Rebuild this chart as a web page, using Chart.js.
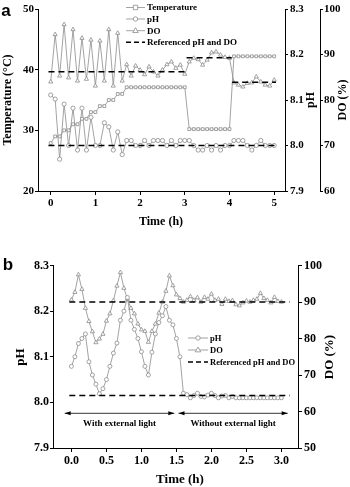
<!DOCTYPE html>
<html>
<head>
<meta charset="utf-8">
<script src="https://cdn.jsdelivr.net/npm/chart.js@4/dist/chart.umd.min.js"></script>
<style>
  html, body { margin: 0; padding: 0; background: #fff; }
  #wrap { position: relative; width: 350px; height: 487px; }
  canvas { position: absolute; left: 0; }
  #chartA { top: 0; }
  #chartB { top: 235px; }
</style>
</head>
<body>
<div id="wrap">
  <canvas id="chartA" width="350" height="235"></canvas>
  <canvas id="chartB" width="350" height="252"></canvas>
</div>
<script>
// ---- panel a data (every 0.1 h) ----
var timeA = [0, 0.1, 0.2, 0.3, 0.4, 0.5, 0.6, 0.7, 0.8, 0.9, 1.0, 1.1, 1.2, 1.3, 1.4, 1.5, 1.6, 1.7, 1.8, 1.9,
  2.0, 2.1, 2.2, 2.3, 2.4, 2.5, 2.6, 2.7, 2.8, 2.9, 3.0, 3.1, 3.2, 3.3, 3.4, 3.5, 3.6, 3.7, 3.8, 3.9,
  4.0, 4.1, 4.2, 4.3, 4.4, 4.5, 4.6, 4.7, 4.8, 4.9, 5.0];
var temperatureA = [27.9, 29.0, 29.0, 30.0, 30.0, 31.0, 31.0, 31.9, 31.9, 33.0, 33.0, 34.0, 34.0, 35.0, 35.0, 36.0, 36.0, 37.1, 37.1, 37.1,
  37.1, 37.1, 37.1, 37.1, 37.1, 37.1, 37.1, 37.1, 37.1, 37.1, 37.1, 30.2, 30.2, 30.2, 30.2, 30.2, 30.2, 30.2, 30.2, 30.2,
  30.2, 42.2, 42.2, 42.2, 42.2, 42.2, 42.2, 42.2, 42.2, 42.2, 42.2];
var phA = [8.111, 8.102, 7.970, 8.091, 8.000, 8.082, 7.990, 8.082, 7.990, 8.062, 8.000, 8.000, 8.050, 8.041, 7.990, 8.030, 7.980, 8.011, 8.011, 8.000,
  8.000, 8.011, 8.000, 8.011, 8.011, 8.011, 8.000, 8.011, 8.000, 8.011, 8.011, 8.011, 8.000, 7.990, 7.990, 8.000, 7.990, 8.000, 7.990, 8.000,
  8.000, 8.011, 8.011, 8.011, 8.000, 7.990, 8.000, 8.011, 8.000, 8.000, 8.000];
var doA = [84.0, 94.4, 85.3, 96.6, 84.9, 95.5, 84.2, 93.6, 84.6, 93.2, 83.1, 93.0, 84.2, 95.5, 83.1, 94.7, 84.2, 87.8, 85.3, 87.5,
  86.6, 85.6, 87.3, 86.2, 85.3, 86.6, 87.8, 88.4, 87.0, 87.7, 85.7, 88.4, 89.2, 88.9, 87.7, 88.8, 90.4, 90.6, 89.9, 89.4,
  89.2, 83.8, 83.3, 82.9, 83.7, 83.8, 85.1, 84.0, 83.3, 83.1, 84.4];
var phRefA = 8.0;
var phRefSpanA = [-0.05, 5.04];
// [from, to, DO]
var doRefSegmentsA = [[-0.05, 3.03, 86.2], [3.04, 4.05, 89.3], [4.06, 5.04, 83.9]];
var timeTicksA = [0, 1, 2, 3, 4, 5];
var tempTicks = [20, 30, 40, 50];
var phTicksA = [7.9, 8.0, 8.1, 8.2, 8.3];
var doTicksA = [60, 70, 80, 90, 100];

// ---- panel b data (every 0.05 h) ----
var timeB = [0, 0.05, 0.1, 0.15, 0.2, 0.25, 0.3, 0.35, 0.4, 0.45, 0.5, 0.55, 0.6, 0.65, 0.7, 0.75, 0.8, 0.85, 0.9, 0.95,
  1.0, 1.05, 1.1, 1.15, 1.2, 1.25, 1.3, 1.35, 1.4, 1.45, 1.5, 1.55, 1.6, 1.65, 1.7, 1.75, 1.8, 1.85, 1.9, 1.95,
  2.0, 2.05, 2.1, 2.15, 2.2, 2.25, 2.3, 2.35, 2.4, 2.45, 2.5, 2.55, 2.6, 2.65, 2.7, 2.75, 2.8, 2.85, 2.9, 2.95, 3.0];
var phB = [8.079, 8.100, 8.129, 8.140, 8.150, 8.089, 8.060, 8.040, 8.019, 8.030, 8.050, 8.079, 8.108, 8.130, 8.180, 8.200, 8.230, 8.180, 8.160, 8.140,
  8.111, 8.079, 8.060, 8.110, 8.150, 8.175, 8.190, 8.210, 8.180, 8.170, 8.140, 8.100, 8.020, 8.017, 8.010, 8.015, 8.020, 8.013, 8.012, 8.016,
  8.020, 8.015, 8.010, 8.014, 8.015, 8.010, 8.013, 8.010, 8.010, 8.010, 8.010, 8.010, 8.010, 8.010, 8.010, 8.010, 8.010, 8.010, 8.010, 8.010, 8.010];
var doB = [90.6, 92.7, 97.5, 93.5, 88.3, 84.7, 81.9, 78.9, 79.9, 81.2, 84.8, 86.8, 90.4, 94.4, 98.1, 93.8, 90.8, 88.3, 86.8, 84.0,
  82.4, 82.0, 79.0, 82.0, 84.0, 87.0, 90.0, 93.0, 97.2, 94.5, 92.0, 91.0, 90.0, 90.5, 91.5, 90.5, 91.2, 90.0, 91.3, 90.8,
  92.2, 90.5, 90.8, 89.4, 90.8, 90.2, 90.4, 89.3, 89.0, 89.8, 90.3, 90.0, 90.5, 90.8, 92.4, 91.0, 90.5, 89.8, 91.3, 90.2, 90.0];
var phRefB = 8.015;
var doRefB = 90;
var refSpanB = [-0.03, 3.12];
var timeTicksB = [0, 0.5, 1.0, 1.5, 2.0, 2.5, 3.0];
var timeTickLabelsB = ["0.0", "0.5", "1.0", "1.5", "2.0", "2.5", "3.0"];
var phTicksB = [7.9, 8.0, 8.1, 8.2, 8.3];
var doTicksB = [50, 60, 70, 80, 90, 100];
var lightPhases = [
  { label: "With external light", from: -0.096, to: 1.47 },
  { label: "Without external light", from: 1.53, to: 3.09 }
];

var GRAY = "#8c8c8c";
var SERIF = '"Liberation Serif", "Times New Roman", serif';

function pts(xs, ys) {
  return xs.map(function (x, i) { return { x: x, y: ys[i] }; });
}

function series(label, data, axis, style, r) {
  return {
    label: label, data: data, yAxisID: axis,
    borderColor: GRAY, borderWidth: 0.8,
    pointStyle: style, pointRadius: r, pointBorderWidth: 0.8,
    pointBorderColor: GRAY, pointBackgroundColor: "#fff",
    tension: 0
  };
}

function refLine(data, axis) {
  return {
    label: "ref", data: data, yAxisID: axis,
    borderColor: "#000", borderWidth: 1.5, borderDash: [6, 4],
    pointRadius: 0, spanGaps: false
  };
}

function axis(opts) {
  var a = {
    type: "linear",
    min: opts.min, max: opts.max,
    position: opts.position,
    weight: opts.weight || 0,
    afterBuildTicks: function (s) {
      s.ticks = opts.ticks.map(function (v) { return { value: v }; });
    },
    ticks: {
      color: "#000", padding: opts.pad,
      font: { family: SERIF, weight: "bold", size: opts.size },
      callback: opts.labels ? function (v, i) { return opts.labels[i]; }
        : function (v) { return opts.fixed != null ? v.toFixed(opts.fixed) : v; }
    },
    grid: { drawOnChartArea: false, drawTicks: true, tickLength: opts.tick, color: "#000", lineWidth: 1 },
    border: { display: true, color: "#000", width: 1 },
    afterFit: function (s) {
      if (opts.position === "bottom") s.height = opts.fit; else s.width = opts.fit;
    }
  };
  return a;
}

function marker(ctx, style, x, y, r) {
  ctx.save();
  ctx.beginPath();
  if (style === "circle") {
    ctx.arc(x, y, r, 0, Math.PI * 2);
  } else if (style === "rect") {
    ctx.rect(x - r, y - r, r * 2, r * 2);
  } else {
    ctx.moveTo(x, y - r * 1.3);
    ctx.lineTo(x + r * 1.2, y + r * 0.8);
    ctx.lineTo(x - r * 1.2, y + r * 0.8);
    ctx.closePath();
  }
  ctx.fillStyle = "#fff";
  ctx.fill();
  ctx.lineWidth = 0.8;
  ctx.strokeStyle = GRAY;
  ctx.stroke();
  ctx.restore();
}

function legend(ctx, items, x1, x2, ys, size) {
  ctx.save();
  ctx.font = "bold " + size + "px " + SERIF;
  ctx.textBaseline = "middle";
  ctx.fillStyle = "#000";
  items.forEach(function (it, i) {
    var y = ys[i];
    ctx.beginPath();
    if (it.dashed) {
      ctx.setLineDash([5, 3]);
      ctx.strokeStyle = "#000";
      ctx.lineWidth = 1.5;
    } else {
      ctx.setLineDash([]);
      ctx.strokeStyle = GRAY;
      ctx.lineWidth = 0.8;
    }
    ctx.moveTo(x1, y);
    ctx.lineTo(x2, y);
    ctx.stroke();
    ctx.setLineDash([]);
    if (!it.dashed) marker(ctx, it.style, (x1 + x2) / 2, y, it.style === "triangle" ? 2.3 : 2.2);
    ctx.fillText(it.label, x2 + 2, y + 0.5);
  });
  ctx.restore();
}

function text(ctx, str, x, y, font, rot) {
  ctx.save();
  ctx.font = font;
  ctx.fillStyle = "#000";
  ctx.textAlign = "center";
  ctx.textBaseline = "middle";
  ctx.translate(x, y);
  if (rot) ctx.rotate(rot);
  ctx.fillText(str, 0, 0);
  ctx.restore();
}

// ---- panel a ----
var doRefDataA = [];
doRefSegmentsA.forEach(function (seg, i) {
  if (i > 0) doRefDataA.push({ x: seg[0], y: null });
  doRefDataA.push({ x: seg[0], y: seg[2] });
  doRefDataA.push({ x: seg[1], y: seg[2] });
});

var decorA = {
  id: "decorA",
  afterDraw: function (chart) {
    var ctx = chart.ctx;
    text(ctx, "a", 6, 11, 'bold 17px "Liberation Sans", Arial, sans-serif');
    text(ctx, "Temperature (\u00B0C)", 8, 100, "bold 12px " + SERIF, -Math.PI / 2);
    text(ctx, "pH", 311, 100, "bold 12px " + SERIF, -Math.PI / 2);
    text(ctx, "DO (%)", 343, 100, "bold 12px " + SERIF, -Math.PI / 2);
    text(ctx, "Time (h)", 161, 222, "bold 12px " + SERIF);
    legend(ctx, [
      { label: "Temperature", style: "rect" },
      { label: "pH", style: "circle" },
      { label: "DO", style: "triangle" },
      { label: "Referenced pH and DO", dashed: true }
    ], 126, 145, [7.5, 19, 30.7, 42.3], 9);
  }
};

new Chart("chartA", {
  type: "line",
  data: {
    datasets: [
      refLine([{ x: phRefSpanA[0], y: phRefA }, { x: phRefSpanA[1], y: phRefA }], "ph"),
      refLine(doRefDataA, "do"),
      series("Temperature", pts(timeA, temperatureA), "temp", "rect", 2),
      series("pH", pts(timeA, phA), "ph", "circle", 2.1),
      series("DO", pts(timeA, doA), "do", "triangle", 2.4)
    ]
  },
  options: {
    responsive: false, animation: false, devicePixelRatio: 1,
    layout: { padding: { top: 9, bottom: 0, left: 0, right: 0 } },
    plugins: { legend: { display: false }, tooltip: { enabled: false } },
    scales: {
      x: axis({ min: -0.284, max: 5.242, position: "bottom", ticks: timeTicksA, size: 11, pad: 2, tick: 4, fit: 44 }),
      temp: axis({ min: 20, max: 50, position: "left", ticks: tempTicks, size: 11, pad: 1, tick: 3, fit: 38 }),
      ph: axis({ min: 7.9, max: 8.3, position: "right", ticks: phTicksA, size: 11, pad: 2, tick: 3, fit: 35, fixed: 1, weight: 0 }),
      do: axis({ min: 60, max: 100, position: "right", ticks: doTicksA, size: 11, pad: 1, tick: 3, fit: 30, weight: 1 })
    }
  },
  plugins: [decorA]
});

// ---- panel b ----
var decorB = {
  id: "decorB",
  afterDraw: function (chart) {
    var ctx = chart.ctx;
    var xs = chart.scales.x;
    text(ctx, "b", 8, 30, 'bold 17px "Liberation Sans", Arial, sans-serif');
    text(ctx, "pH", 21, 122, "bold 13px " + SERIF, -Math.PI / 2);
    text(ctx, "DO (%)", 330, 122, "bold 13px " + SERIF, -Math.PI / 2);
    text(ctx, "Time (h)", 180, 245, "bold 13px " + SERIF);
    legend(ctx, [
      { label: "pH", style: "circle" },
      { label: "DO", style: "triangle" },
      { label: "Referenced pH and DO", dashed: true }
    ], 188, 208, [103, 115, 127], 8.5);

    var ay = 178.3;
    ctx.save();
    ctx.strokeStyle = "#000";
    ctx.fillStyle = "#000";
    ctx.lineWidth = 0.8;
    lightPhases.forEach(function (p) {
      var a = xs.getPixelForValue(p.from);
      var b = xs.getPixelForValue(p.to);
      ctx.beginPath();
      ctx.moveTo(a, ay);
      ctx.lineTo(b, ay);
      ctx.stroke();
      ctx.beginPath();
      ctx.moveTo(a, ay); ctx.lineTo(a + 6, ay - 2); ctx.lineTo(a + 6, ay + 2); ctx.closePath();
      ctx.fill();
      ctx.beginPath();
      ctx.moveTo(b, ay); ctx.lineTo(b - 6, ay - 2); ctx.lineTo(b - 6, ay + 2); ctx.closePath();
      ctx.fill();
      text(ctx, p.label, (a + b) / 2, ay + 10, "bold 9px " + SERIF);
    });
    ctx.restore();
  }
};

new Chart("chartB", {
  type: "line",
  data: {
    datasets: [
      refLine([{ x: refSpanB[0], y: phRefB }, { x: refSpanB[1], y: phRefB }], "ph"),
      refLine([{ x: refSpanB[0], y: doRefB }, { x: refSpanB[1], y: doRefB }], "do"),
      series("pH", pts(timeB, phB), "ph", "circle", 2),
      series("DO", pts(timeB, doB), "do", "triangle", 2.4)
    ]
  },
  options: {
    responsive: false, animation: false, devicePixelRatio: 1,
    layout: { padding: { top: 30.5, bottom: 0, left: 0, right: 0 } },
    plugins: { legend: { display: false }, tooltip: { enabled: false } },
    scales: {
      x: axis({ min: -0.263, max: 3.237, position: "bottom", ticks: timeTicksB, labels: timeTickLabelsB, size: 12, pad: 2, tick: 4, fit: 39 }),
      ph: axis({ min: 7.9, max: 8.3, position: "left", ticks: phTicksB, size: 12, pad: 1, tick: 3, fit: 53, fixed: 1 }),
      do: axis({ min: 50, max: 100, position: "right", ticks: doTicksB, size: 12, pad: 2, tick: 4, fit: 52 })
    }
  },
  plugins: [decorB]
});
</script>
</body>
</html>
